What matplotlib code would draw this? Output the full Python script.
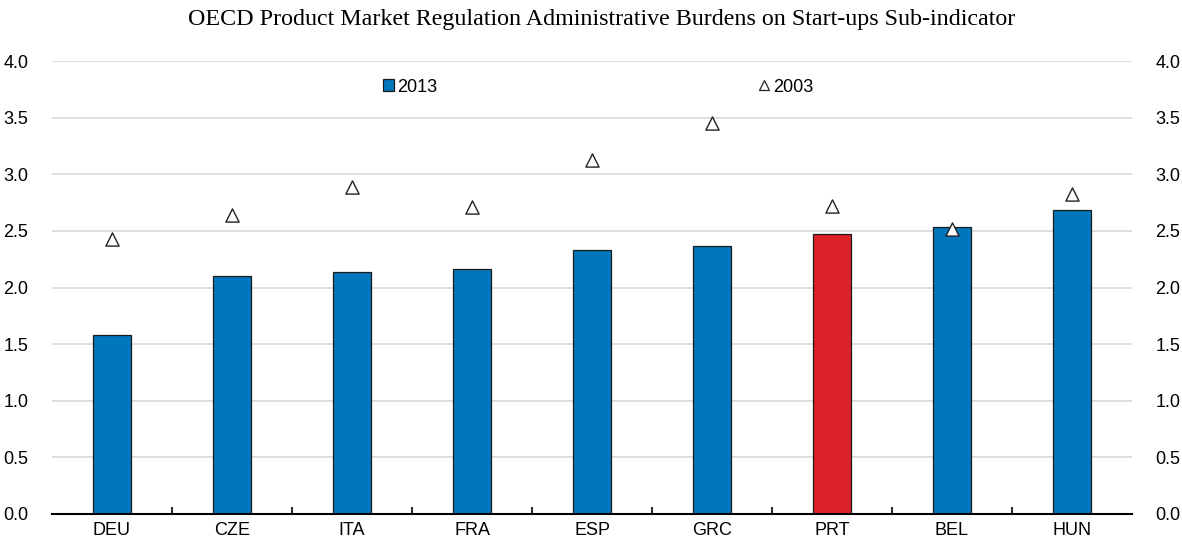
import matplotlib
matplotlib.use("Agg")
import matplotlib.pyplot as plt
from matplotlib import font_manager
from matplotlib.lines import Line2D
from matplotlib.patches import Patch

names = {f.name for f in font_manager.fontManager.ttflist}
sans = 'Liberation Sans Narrow' if 'Liberation Sans Narrow' in names else 'Liberation Sans'

countries = ["DEU", "CZE", "ITA", "FRA", "ESP", "GRC", "PRT", "BEL", "HUN"]
v2013 = [1.58, 2.10, 2.14, 2.16, 2.33, 2.37, 2.47, 2.53, 2.68]
v2003 = [2.43, 2.64, 2.89, 2.71, 3.13, 3.45, 2.72, 2.52, 2.83]
highlight = "PRT"
yticks = [0.0, 0.5, 1.0, 1.5, 2.0, 2.5, 3.0, 3.5, 4.0]

blue = "#0077bd"
red = "#dc2128"

fig = plt.figure(figsize=(11.82, 5.43), dpi=100)
ax = fig.add_axes([52/1182, 1-514/543, 1080/1182, 453/543])

x = list(range(len(countries)))
colors = [red if c == highlight else blue for c in countries]
ax.bar(x, v2013, width=0.32, color=colors, edgecolor="#1a1a1a", linewidth=0.9, zorder=2)
ax.scatter(x, v2003, marker="^", s=90, facecolor="white", edgecolor="#222222", linewidth=1.0, zorder=3)

ax.set_xlim(-0.5, len(countries) - 0.5)
ax.set_ylim(0, 4.0)
ax.set_yticks(yticks)
ax.set_yticklabels([f"{t:.1f}" for t in yticks], fontsize=13, family=sans)
ax.yaxis.grid(True, color="#d9d9d9", linewidth=1.2, zorder=0)
ax.set_axisbelow(True)
ax.tick_params(axis="y", length=0, pad=17, labelright=True, right=False, left=False,
               labelsize=13)

ax.set_xticks(x)
ax.set_xticklabels(countries, fontsize=13, family=sans)
ax.tick_params(axis="x", length=0, pad=6)
ax.set_xticks([i + 0.5 for i in x[:-1]], minor=True)
ax.tick_params(axis="x", which="minor", length=5, direction="in", width=1.2, color="black")

for s in ["top", "left", "right"]:
    ax.spines[s].set_visible(False)
ax.spines["bottom"].set_linewidth(1.5)
ax.spines["bottom"].set_zorder(4)

h1 = [Patch(facecolor=blue, edgecolor="#1a1a1a", linewidth=0.9)]
leg1 = ax.legend(h1, ["2013"], loc="center", bbox_to_anchor=(358/1080, (514-87)/453),
                 frameon=False, handlelength=0.65, handleheight=0.65, handletextpad=0.15,
                 prop={"family": sans, "size": 13})
ax.add_artist(leg1)
h2 = [Line2D([], [], marker="^", linestyle="none", markersize=7, markerfacecolor="white",
             markeredgecolor="#222222", markeredgewidth=0.9)]
ax.legend(h2, ["2003"], loc="center", bbox_to_anchor=(733/1080, (514-87)/453),
          frameon=False, handlelength=0.8, handletextpad=0.1,
          prop={"family": sans, "size": 13})

fig.text(602/1182, 1-20/543, "OECD Product Market Regulation Administrative Burdens on Start-ups Sub-indicator",
         ha="center", va="center", fontsize=17.3, family="Liberation Serif")

fig.savefig("out.png", dpi=100)
